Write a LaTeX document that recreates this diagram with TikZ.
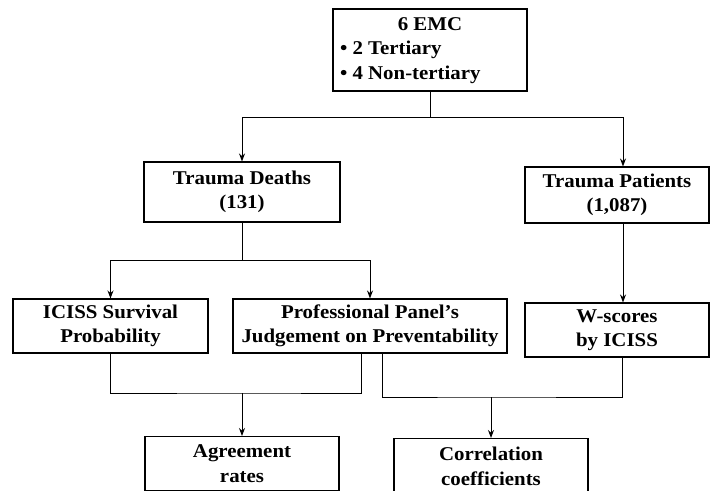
\documentclass[tikz,border=0pt]{standalone}
\usepackage{fontspec}
\setmainfont{Liberation Serif}[FakeStretch=1.07]
\usetikzlibrary{arrows.meta,calc}
\begin{document}
\begin{tikzpicture}[x=1pt,y=-1pt,
  box/.style={draw,line width=1.1pt,inner sep=0pt,align=center,
    font=\fontsize{19.5}{24.5}\selectfont\bfseries},
  conn/.style={line width=1pt},
  arr/.style={conn,-{Stealth[length=8pt,width=6pt]}}]
\useasboundingbox (0,0) rectangle (711,490);
\begin{scope}
\clip (0,0) rectangle (711,490);
\node[box,minimum width=194pt,minimum height=82pt] (emc) at (430,50)
  {\begin{tabular}{@{}p{180pt}@{}}\multicolumn{1}{@{}c@{}}{6 EMC}\\ • 2 Tertiary\\ • 4 Non-tertiary\end{tabular}};
\node[box,minimum width=196pt,minimum height=60pt] (deaths) at (242,192) {Trauma Deaths\\(131)};
\node[box,minimum width=184pt,minimum height=56pt] (patients) at (617,195) {Trauma Patients\\(1,087)};
\node[box,minimum width=195pt,minimum height=54pt] (iciss) at (110.5,326) {ICISS Survival\\Probability};
\node[box,minimum width=274pt,minimum height=54pt] (panel) at (370,326) {Professional Panel’s\\Judgement on Preventability};
\node[box,minimum width=184pt,minimum height=54pt] (wscore) at (617,330) {W-scores\\by ICISS};
\node[box,minimum width=194pt,minimum height=54pt,anchor=north] (agree) at (242,436) {Agreement\\rates};
\node[box,minimum width=194pt,minimum height=56pt,anchor=north] (corr) at (491,438) {Correlation\\coefficients};
\end{scope}
% connectors
\coordinate (j1) at (430,117);
\draw[conn] (emc.south) -- (j1);
\draw[arr] (j1) -| (deaths.north);
\coordinate (pt) at ($(patients.north)+(6,0)$);
\draw[arr] (j1) -| (pt);
\coordinate (j2) at (242,260);
\draw[conn] (deaths.south) -- (j2);
\draw[arr] (j2) -| (iciss.north);
\draw[arr] (j2) -| (panel.north);
\coordinate (ps) at ($(patients.south)+(6,0)$);
\coordinate (wn) at ($(wscore.north)+(6,0)$);
\draw[arr] (ps) -- (wn);
% bottom joins
\coordinate (pa) at ($(panel.south)+(-9,0)$);
\coordinate (pb) at ($(panel.south)+(12,0)$);
\coordinate (ws) at ($(wscore.south)+(5,0)$);
\coordinate (j3) at (242,393);
\coordinate (j4) at (491,397);
\draw[conn] (iciss.south) |- (j3) -| (pa);
\draw[arr] (j3) -- (agree.north);
\draw[conn] (pb) |- (j4) -| (ws);
\draw[arr] (j4) -- (corr.north);
\end{tikzpicture}
\end{document}
